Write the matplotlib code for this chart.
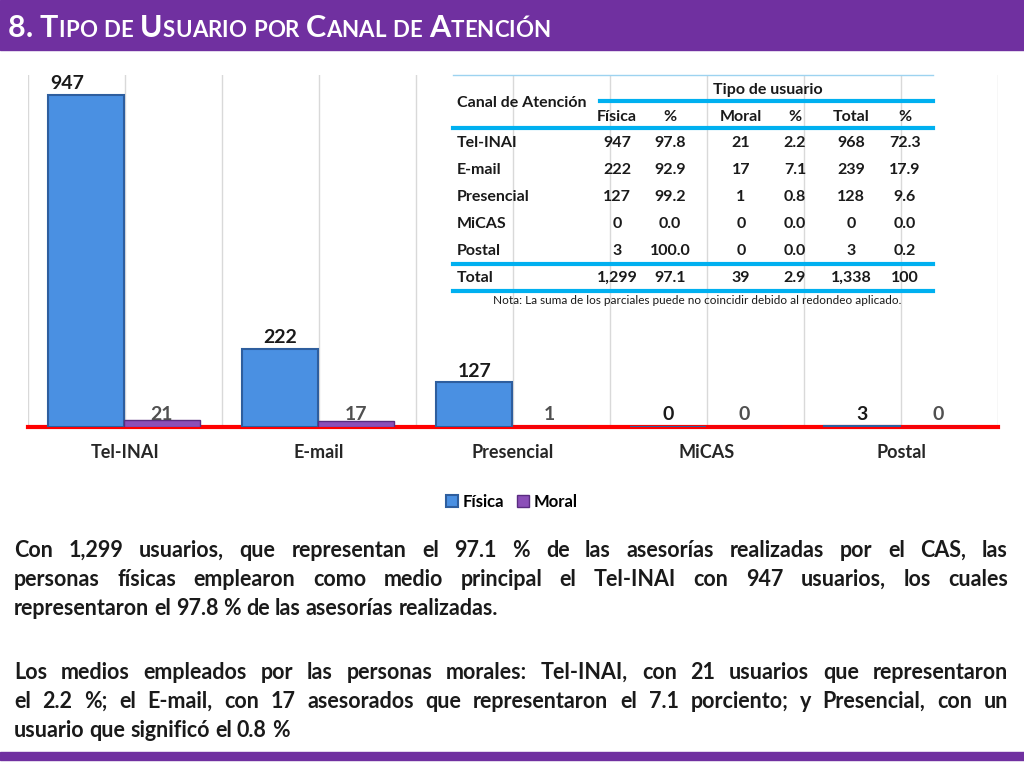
import matplotlib
matplotlib.use("Agg")
import matplotlib.pyplot as plt
from matplotlib.patches import Rectangle
from matplotlib.lines import Line2D
import numpy as np

canales = ["Tel-INAI", "E-mail", "Presencial", "MiCAS", "Postal"]
fisica = [947, 222, 127, 0, 3]
moral = [21, 17, 1, 0, 0]
fis_pct = ["97.8", "92.9", "99.2", "0.0", "100.0"]
mor_pct = ["2.2", "7.1", "0.8", "0.0", "0.0"]
total = ["968", "239", "128", "0", "3"]
tot_pct = ["72.3", "17.9", "9.6", "0.0", "0.2"]
fila_total = ["1,299", "97.1", "39", "2.9", "1,338", "100"]

FONT = "Lato"
plt.rcParams["font.family"] = FONT
W, H = 1024, 768
fig = plt.figure(figsize=(W/100, H/100), dpi=100)

def T(x, y, s, **kw):
    return fig.text(x/W, 1-y/H, s, **kw)

def HL(x0, x1, y, c, lw):
    fig.add_artist(Line2D([x0/W, x1/W], [1-y/H, 1-y/H], color=c, lw=lw))

fig.add_artist(Rectangle((0, 1-50/H), 1, 50/H, color="#7030A0", transform=fig.transFigure))
fig.add_artist(Rectangle((0, 1-760/H), 1, 8/H, color="#7030A0", transform=fig.transFigure))

ax = fig.add_axes([28/W, 1-427/H, 970/W, 352/H])
x = np.arange(len(canales))
bw = 0.39
ax.bar(x-0.2, fisica, bw, color="#4A90E2", edgecolor="#2E5E9E", lw=1.5, label="Física", zorder=3)
ax.bar(x+0.19, moral, bw, color="#8B4FB8", edgecolor="#5A2C80", lw=1, label="Moral", zorder=3)
ax.set_xlim(-0.5, 4.5)
ax.set_ylim(0, 1004)
for v in np.arange(-0.5, 4.6, 0.5):
    ax.axvline(v, color="#D9D9D9", lw=1, zorder=1)
for i in range(5):
    yv = fisica[i] + 8 if fisica[i] > 50 else 12
    ax.text(x[i]-0.2 - (0.1 if i == 0 else 0), yv, str(fisica[i]), ha="center", va="bottom",
            fontsize=14, fontweight="bold", color="#1a1a1a", zorder=4)
    ax.text(x[i]+0.19, 10, str(moral[i]), ha="center", va="bottom",
            fontsize=14, fontweight="bold", color="#505050", zorder=4)
for s in ["top", "right", "left"]:
    ax.spines[s].set_visible(False)
ax.spines["bottom"].set_color("#FF0000")
ax.spines["bottom"].set_linewidth(3)
ax.set_yticks([])
ax.set_xticks(x)
ax.set_xticklabels(canales, fontsize=13, fontweight="bold", color="#262626")
ax.tick_params(axis="x", length=0, pad=12)
fig.legend(*ax.get_legend_handles_labels(), loc="center", bbox_to_anchor=(512/W, 1-502/H),
           ncol=2, frameon=False, prop={"family": FONT, "weight": "bold", "size": 12},
           handlelength=0.7, handleheight=0.7, columnspacing=0.8, handletextpad=0.3)

HL(453, 933, 75, "#9DD3F0", 1)
HL(600, 933, 101, "#00B0F0", 3)
HL(453, 933, 128, "#00B0F0", 3)
HL(453, 933, 264, "#00B0F0", 3)
HL(453, 933, 291, "#00B0F0", 3)
tk = dict(fontsize=11.5, fontweight="bold", color="#1a1a1a", va="center")
T(768, 90, "Tipo de usuario", ha="center", **tk)
T(457, 103, "Canal de Atención", ha="left", **tk)
cols = [617, 670, 741, 795, 851, 905]
for c, h in zip(cols, ["Física", "%", "Moral", "%", "Total", "%"]):
    T(c, 117, h, ha="center", **tk)
rows = [143, 170, 197, 224, 251]
for i, r in enumerate(rows):
    T(457, r, canales[i], ha="left", **tk)
    for c, v in zip(cols, [str(fisica[i]), fis_pct[i], str(moral[i]), mor_pct[i], total[i], tot_pct[i]]):
        T(c, r, v, ha="center", **tk)
T(457, 278, "Total", ha="left", **tk)
for c, v in zip(cols, fila_total):
    T(c, 278, v, ha="center", **tk)
T(697, 300, "Nota: La suma de los parciales puede no coincidir debido al redondeo aplicado.",
  ha="center", va="center", fontsize=8.5, color="#1a1a1a")

fig.canvas.draw()
rend = fig.canvas.get_renderer()

def smallcaps(x0, y, s, big=22, small=16):
    xx = x0
    for word in s.split(" "):
        for ch in word:
            big_ch = ch.isupper() or ch.isdigit() or ch == "."
            t = T(xx, y, ch.upper(), fontsize=big if big_ch else small, fontweight="bold",
                  color="white", va="baseline")
            xx += t.get_window_extent(rend).width
        xx += 7
smallcaps(8, 37, "8. Tipo de Usuario por Canal de Atención")

def jline(y, words, x0=14, x1=1008, justify=True, fs=15.5):
    sizes, ts = [], []
    for w in words:
        t = T(0, y, w, fontsize=fs, fontweight="bold", color="#1a1a1a", va="baseline")
        sizes.append(t.get_window_extent(rend).width)
        ts.append(t)
    gap = (x1 - x0 - sum(sizes)) / (len(words) - 1) if justify else 5
    xx = x0
    for t, s in zip(ts, sizes):
        t.set_x(xx / W)
        xx += s + gap

lines = [
 ("Con 1,299 usuarios, que representan el 97.1 % de las asesorías realizadas por el CAS, las", True),
 ("personas físicas emplearon como medio principal el Tel-INAI con 947 usuarios, los cuales", True),
 ("representaron el 97.8 % de las asesorías realizadas.", False),
]
for i, (l, j) in enumerate(lines):
    jline(557 + i*29, l.split(" "), justify=j)
lines2 = [
 ("Los medios empleados por las personas morales: Tel-INAI, con 21 usuarios que representaron", True),
 ("el 2.2 %; el E-mail, con 17 asesorados que representaron el 7.1 porciento; y Presencial, con un", True),
 ("usuario que significó el 0.8 %", False),
]
for i, (l, j) in enumerate(lines2):
    jline(679 + i*29, l.split(" "), justify=j)

fig.savefig("out.png", dpi=100)
